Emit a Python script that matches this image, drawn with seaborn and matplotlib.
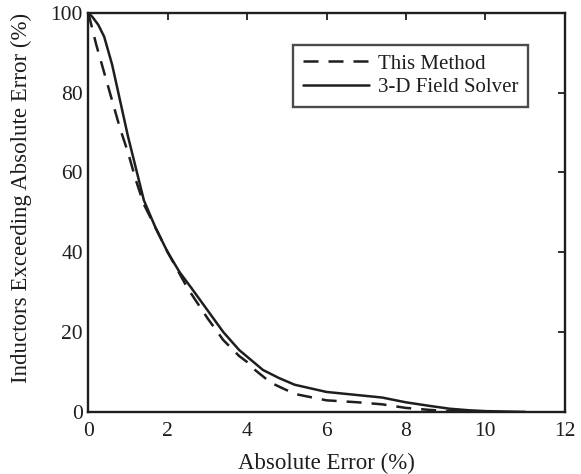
import matplotlib
matplotlib.use("Agg")
import matplotlib.pyplot as plt
import pandas as pd
import seaborn as sns

# 数据
method_x = [0, 0.1, 0.2, 0.4, 0.6, 0.8, 1.0, 1.2, 1.4, 1.7, 2.0, 2.5, 3.0, 3.4, 3.8, 4.0,
            4.2, 4.6, 5.2, 6.0, 6.8, 7.4, 8.0, 8.6, 9.1, 9.6, 10.0]
method_y = [100, 96, 92, 85, 78, 71, 65, 58, 52, 46, 40, 31, 23.5, 18, 14, 12.5,
            10.5, 7.3, 4.5, 2.9, 2.4, 1.9, 1.0, 0.5, 0.2, 0.1, 0]

solver_x = [0, 0.1, 0.25, 0.4, 0.6, 0.8, 1.0, 1.2, 1.4, 1.7, 2.0, 2.3, 2.6, 3.0, 3.4, 3.8,
            4.1, 4.4, 4.8, 5.2, 6.0, 6.8, 7.4, 8.0, 8.6, 9.1, 9.6, 10.0, 10.5, 11.0]
solver_y = [100, 99, 97, 94, 87, 78, 69, 61, 53, 46, 40, 35, 31, 25.5, 20, 15.5,
            13, 10.5, 8.5, 6.8, 5.0, 4.2, 3.6, 2.4, 1.5, 0.8, 0.4, 0.2, 0.1, 0.0]

sns.set_style("white")
plt.rcParams['font.family'] = ['Liberation Serif', 'DejaVu Serif']

ink = "#1e1e1e"

fig, ax = plt.subplots(figsize=(5.81, 4.74), dpi=100)
fig.subplots_adjust(left=0.152, right=0.972, top=0.973, bottom=0.131)

df_m = pd.DataFrame({"x": method_x, "y": method_y})
df_s = pd.DataFrame({"x": solver_x, "y": solver_y})
sns.lineplot(data=df_m, x="x", y="y", ax=ax, color=ink, lw=1.8,
             linestyle=(0, (6, 4)), label="This Method", sort=False)
sns.lineplot(data=df_s, x="x", y="y", ax=ax, color=ink, lw=1.8,
             label="3-D Field Solver", sort=False)

ax.set_xlim(0, 12)
ax.set_ylim(0, 100)
ax.set_xticks(range(0, 13, 2))
ax.set_yticks(range(0, 101, 20))
ax.tick_params(direction='in', top=True, right=True, length=5, width=1.3,
               labelsize=15.5, colors=ink)
ax.tick_params(axis='x', pad=7)
ax.tick_params(axis='y', pad=4)
for s in ax.spines.values():
    s.set_linewidth(1.7)
    s.set_color(ink)

ax.set_xlabel("Absolute Error (%)", fontsize=16.5, color=ink, labelpad=9)
ax.set_ylabel("Inductors Exceeding Absolute Error (%)", fontsize=16.5,
              color=ink, labelpad=6)
ax.yaxis.set_label_coords(-0.118, 0.535)

leg = ax.legend(loc="upper right", bbox_to_anchor=(0.922, 0.92), fontsize=15,
                frameon=True, fancybox=False, edgecolor=ink,
                handlelength=3.2, handletextpad=0.4, borderpad=0.45,
                labelspacing=0.2, borderaxespad=0)
leg.get_frame().set_linewidth(1.7)
for t in leg.get_texts():
    t.set_color(ink)

fig.savefig("out.png", dpi=100)
